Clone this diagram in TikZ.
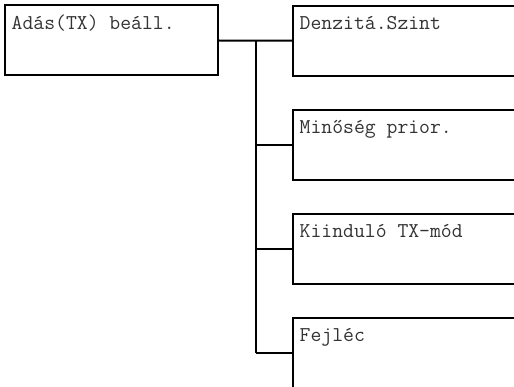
\documentclass[tikz,border=0pt]{standalone}
\usepackage{fontspec}
\begin{document}
\begin{tikzpicture}[x=1pt,y=-1pt,
  box/.style={draw=black,line width=2pt,rectangle,anchor=north west,inner sep=0pt,outer sep=0pt,minimum width=#1,minimum height=70pt},
  lbl/.style={anchor=base west,inner sep=0pt,text=black!80,font=\ttfamily\fontsize{21.1}{24}\selectfont},
  conn/.style={line width=2pt}]
\useasboundingbox (0,0) rectangle (514,387);
\clip (0,0) rectangle (514,387);
\node[box=213pt] (root) at (5,5.5) {};
\node[lbl] (troot) at ([shift={(6.5pt,-23.8pt)}]root.north west) {Adás(TX) beáll.};
\node[box=240pt] (b1) at (293,5.7) {};
\node[box=240pt] (b2) at (293,110) {};
\node[box=240pt] (b3) at (293,214) {};
\node[box=240pt] (b4) at (293,318) {};
\node[lbl] (t1) at ([shift={(6.5pt,-23.5pt)}]b1.north west) {Denzitá.Szint};
\node[lbl] (t2) at ([shift={(6.5pt,-23.5pt)}]b2.north west) {Minőség prior.};
\node[lbl] (t3) at ([shift={(6.5pt,-23.5pt)}]b3.north west) {Kiinduló TX-mód};
\node[lbl] (t4) at ([shift={(6.5pt,-23.5pt)}]b4.north west) {Fejléc};
\coordinate (j1) at (256,41);
\coordinate (j4) at (256,353);
\draw[conn] (root.east) -- (b1.west);
\draw[conn] (j1) -- (j4);
\draw[conn] (j1 |- b2.west) -- (b2.west);
\draw[conn] (j1 |- b3.west) -- (b3.west);
\draw[conn] (j1 |- b4.west) -- (b4.west);
\end{tikzpicture}
\end{document}
